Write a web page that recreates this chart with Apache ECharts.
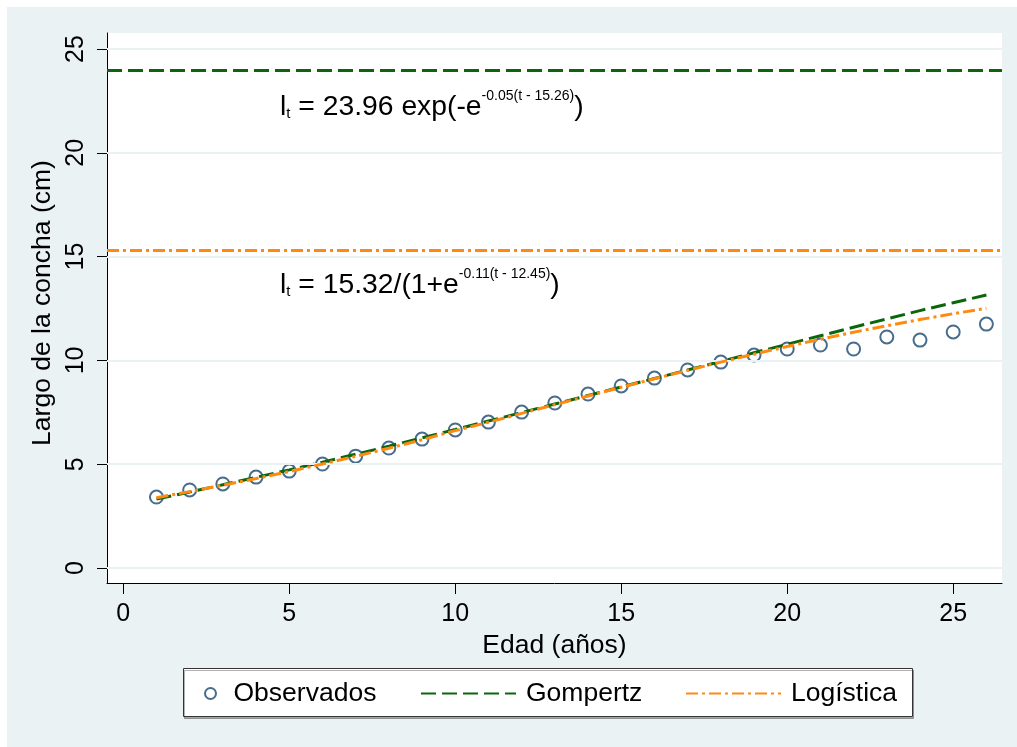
<!DOCTYPE html>
<html>
<head>
<meta charset="utf-8" />
<title>Largo de la concha</title>
<script src="https://cdn.jsdelivr.net/npm/echarts@6/dist/echarts.min.js"></script>
<style>
	* { padding: 0; margin: 0; }
	body { background: #fff; }
	#main { position: absolute; left: 7px; top: 7px; width: 1010px; height: 740px; }
</style>
</head>
<body>
<div id="main"></div>
<script type="text/javascript">
// edad (años)
var edad = [1,2,3,4,5,6,7,8,9,10,11,12,13,14,15,16,17,18,19,20,21,22,23,24,25,26];
// largo observado (cm)
var observados = [3.42,3.76,4.05,4.38,4.67,5.01,5.39,5.78,6.21,6.65,7.03,7.51,7.95,8.38,8.77,
	9.15,9.54,9.92,10.26,10.55,10.74,10.55,11.13,10.98,11.37,11.75];
// curvas ajustadas
var gompertz = [3.32,3.66,4.01,4.37,4.73,5.10,5.48,5.87,6.27,6.67,7.08,7.49,7.90,8.31,8.72,
	9.13,9.54,9.95,10.37,10.78,11.19,11.60,12.00,12.40,12.78,13.15];
var logistica = [3.39,3.68,3.99,4.31,4.65,5.01,5.38,5.77,6.18,6.62,7.02,7.45,7.87,8.29,8.71,
	9.12,9.52,9.92,10.30,10.67,11.02,11.36,11.67,11.97,12.25,12.51];
// asintotas
var gompertzLinf = [23.96];
var logisticaLinf = [15.32];
// ticks
var xTicks = [0,5,10,15,20,25];
var yTicks = [0,5,10,15,20,25];

var FONT = "'Liberation Sans', Arial, sans-serif";
var NAVY = '#1a476f', GREEN = '#0b660b', ORANGE = '#ff8a12', GRID = '#eaf2f3';

function pairs(ys) {
	return edad.map(function (t, i) { return [t, ys[i]]; });
}

// texto de las ecuaciones (sub/superindices)
var eqRich = {
	m: { fontSize: 28.3, lineHeight: 36, fontFamily: FONT, fill: '#000' },
	sub: { fontSize: 15, verticalAlign: 'bottom', lineHeight: 36, padding: [0, 0, 4, 0], fontFamily: FONT, fill: '#000' },
	sup: { fontSize: 14, verticalAlign: 'top', fontFamily: FONT, fill: '#000' }
};
var legendText = { fontSize: 26.5, color: '#000', fontFamily: FONT, padding: [0, 0, 0, 5] };

var myChart = echarts.init(document.getElementById('main'));

var option = {
	backgroundColor: GRID,
	animation: false,
	textStyle: { fontFamily: FONT },
	grid: {
		left: 100, top: 26, right: 15, bottom: 164,
		show: true, backgroundColor: '#fff', borderWidth: 0
	},
	xAxis: {
		type: 'value', min: -0.49, max: 26.47,
		name: 'Edad (años)', nameLocation: 'middle', nameGap: 33,
		nameTextStyle: { fontSize: 26.5, color: '#000', fontFamily: FONT },
		axisLine: { show: true, onZero: false, lineStyle: { color: '#000', width: 1 } },
		axisTick: { show: true, length: 11, customValues: xTicks, lineStyle: { color: '#000' } },
		axisLabel: { customValues: xTicks, margin: 19, fontSize: 25, color: '#000', fontFamily: FONT },
		splitLine: { show: false }
	},
	yAxis: {
		type: 'value', min: -0.72, max: 25.77,
		name: 'Largo de la concha (cm)', nameLocation: 'middle', nameGap: 36,
		nameTextStyle: { fontSize: 26.5, color: '#000', fontFamily: FONT, padding: [0, 0, 0, 10] },
		axisLine: { show: true, onZero: false, lineStyle: { color: '#000', width: 1 } },
		axisTick: { show: true, length: 10, customValues: yTicks, lineStyle: { color: '#000' } },
		axisLabel: { customValues: yTicks, rotate: 90, margin: 18, fontSize: 25, color: '#000', fontFamily: FONT },
		splitLine: { show: false }
	},
	legend: [{
		data: ['Observados'], left: 192, top: 668, itemWidth: 36, itemHeight: 11,
		textStyle: { fontSize: 26.5, color: '#000', fontFamily: FONT }
	}, {
		data: ['Gompertz'], left: 408, top: 668, itemWidth: 95, itemHeight: 14,
		itemStyle: { opacity: 0 },
		textStyle: legendText
	}, {
		data: ['Logística'], left: 673, top: 668, itemWidth: 95, itemHeight: 14,
		itemStyle: { opacity: 0 },
		textStyle: legendText
	}],
	graphic: [{
		type: 'rect', left: 176, top: 661, z: 1,
		shape: { width: 729, height: 48 },
		style: { fill: '#fff', stroke: '#333', lineWidth: 1,
			shadowColor: 'rgba(0,0,0,0.3)', shadowOffsetX: 1, shadowOffsetY: 2 }
	}, {
		type: 'text', left: 273, top: 82, z: 10,
		style: {
			text: '{m|l}{sub|t}{m| = 23.96 exp(-e}{sup|-0.05(t - 15.26)}{m|)}',
			rich: eqRich
		}
	}, {
		type: 'text', left: 273, top: 260, z: 10,
		style: {
			text: '{m|l}{sub|t}{m| = 15.32/(1+e}{sup|-0.11(t - 12.45)}{m|)}',
			rich: eqRich
		}
	}],
	series: [{
		// lineas de la grilla
		type: 'line', data: [], z: 1, silent: true,
		markLine: {
			silent: true, symbol: 'none', label: { show: false },
			lineStyle: { color: GRID, width: 2, type: 'solid' },
			data: yTicks.map(function (v) { return { yAxis: v }; })
		}
	}, {
		name: 'Observados', type: 'scatter', z: 3,
		symbol: 'emptyCircle', symbolSize: 13,
		itemStyle: { color: NAVY, borderColor: NAVY, borderWidth: 2.8 },
		data: pairs(observados)
	}, {
		name: 'Gompertz', type: 'line', z: 4, symbol: 'none',
		lineStyle: { color: GREEN, width: 3, type: [15, 6] },
		itemStyle: { color: GREEN },
		data: pairs(gompertz),
		markLine: {
			silent: true, symbol: 'none', label: { show: false },
			lineStyle: { color: GREEN, width: 3, type: [15, 6] },
			data: gompertzLinf.map(function (v) { return { yAxis: v }; })
		}
	}, {
		name: 'Logística', type: 'line', z: 5, symbol: 'none',
		lineStyle: { color: ORANGE, width: 3, type: [12, 4, 3, 4] },
		itemStyle: { color: ORANGE },
		data: pairs(logistica),
		markLine: {
			silent: true, symbol: 'none', label: { show: false },
			lineStyle: { color: ORANGE, width: 3, type: [12, 4, 3, 4] },
			data: logisticaLinf.map(function (v) { return { yAxis: v }; })
		}
	}]
};

myChart.setOption(option);
</script>
</body>
</html>
